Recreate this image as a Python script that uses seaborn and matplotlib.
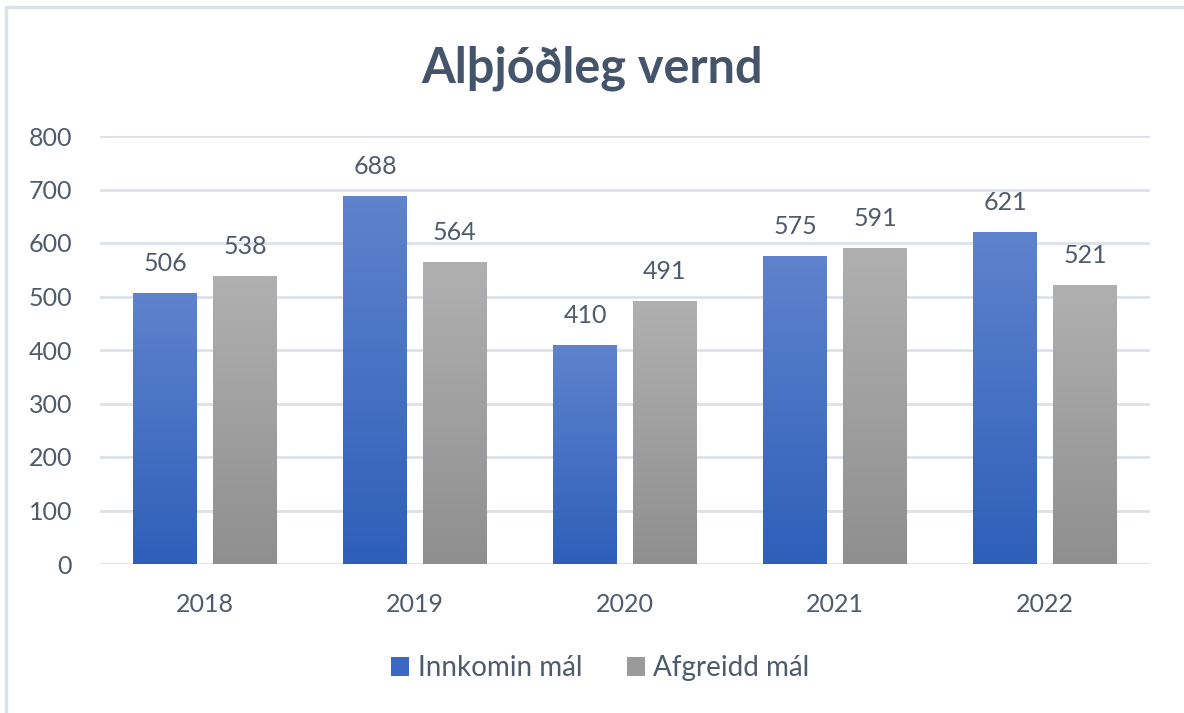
import matplotlib
matplotlib.use("Agg")
import matplotlib.pyplot as plt
import matplotlib.colors as mcolors
from matplotlib.lines import Line2D
from matplotlib.patches import Patch
import seaborn as sns
import pandas as pd
import numpy as np

# Data
years = ["2018", "2019", "2020", "2021", "2022"]
innkomin = [506, 688, 410, 575, 621]
afgreidd = [538, 564, 491, 591, 521]
series_names = ["Innkomin mál", "Afgreidd mál"]

df = pd.DataFrame({
    "Ár": years * 2,
    "Fjöldi": innkomin + afgreidd,
    "Flokkur": [series_names[0]] * len(years) + [series_names[1]] * len(years),
})

palette = {series_names[0]: "#4472c4", series_names[1]: "#a5a5a5"}
grad = {
    series_names[0]: ("#2e5fb9", "#5f83cd"),
    series_names[1]: ("#8f8f8f", "#b0b0b0"),
}
text_col = "#4f5a6c"
grid_col = "#dde2ea"

sns.set_theme(style="white")
plt.rcParams["font.family"] = ["Lato", "DejaVu Sans"]

fig = plt.figure(figsize=(11.84, 7.13), dpi=100)
ax = fig.add_axes([100 / 1184, 1 - 564 / 713, 1050 / 1184, 428 / 713])

sns.barplot(data=df, x="Ár", y="Fjöldi", hue="Flokkur", palette=palette,
            width=0.76, gap=0.2, ax=ax, legend=False)

# gradient fills + value labels
for container, name in zip(ax.containers, series_names):
    cmap = mcolors.LinearSegmentedColormap.from_list(name, grad[name])
    for bar in container:
        x0, y0 = bar.get_x(), bar.get_y()
        w, h = bar.get_width(), bar.get_height()
        img = ax.imshow(np.linspace(0, 1, 256).reshape(-1, 1), cmap=cmap,
                        extent=[x0, x0 + w, y0, y0 + h], origin="lower",
                        aspect="auto", zorder=bar.get_zorder() + 0.1)
        img.set_clip_path(bar)
        bar.set_edgecolor("none")
    ax.bar_label(container, fmt="%d", padding=13, fontsize=18, color=text_col)

ax.set_xlim(-0.5, len(years) - 0.5)
ax.set_ylim(0, 800)
ax.set_yticks(range(0, 801, 100))
ax.yaxis.grid(True, color=grid_col, linewidth=2)
ax.set_axisbelow(True)
for s in ax.spines.values():
    s.set_visible(False)
ax.tick_params(axis="both", length=0, labelsize=18, labelcolor=text_col)
ax.tick_params(axis="y", pad=20)
ax.tick_params(axis="x", pad=21)
ax.set_xlabel("")
ax.set_ylabel("")

fig.text(0.5, 1 - 68 / 713, "Alþjóðleg vernd", ha="center", va="center",
         fontsize=35, fontweight="bold", color="#44546a")

handles = [Patch(facecolor="#3a69c4", edgecolor="none"),
           Patch(facecolor="#9a9a9a", edgecolor="none")]
fig.legend(handles, series_names, loc="center", bbox_to_anchor=(0.507, 1 - 668 / 713),
           ncol=2, frameon=False, fontsize=20, labelcolor=text_col,
           handlelength=0.65, handleheight=0.65, handletextpad=0.3, columnspacing=1.6)

# chart frame (cropped at right and bottom)
fig.add_artist(Line2D([6 / 1184, 1], [1 - 7 / 713, 1 - 7 / 713], color=grid_col, lw=2.5))
fig.add_artist(Line2D([6 / 1184, 6 / 1184], [0, 1 - 7 / 713], color=grid_col, lw=2.5))

fig.savefig("out.png", dpi=100, facecolor="white")
